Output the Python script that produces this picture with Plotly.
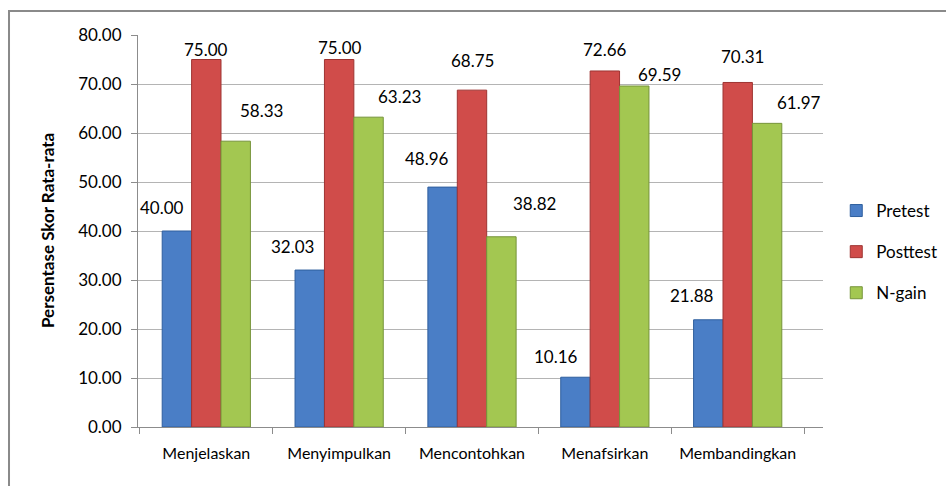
import plotly.graph_objects as go

categories = ["Menjelaskan", "Menyimpulkan", "Mencontohkan", "Menafsirkan", "Membandingkan"]
pretest = [40.00, 32.03, 48.96, 10.16, 21.88]
posttest = [75.00, 75.00, 68.75, 72.66, 70.31]
ngain = [58.33, 63.23, 38.82, 69.59, 61.97]
series_names = ["Pretest", "Posttest", "N-gain"]
y_ticks = [0, 10, 20, 30, 40, 50, 60, 70, 80]

# label placement (pixel offsets of each data label relative to its bar top)
label_dx = [[-14, -16, -15, -19, -15],
            [0, 1, 0, 0, 5],
            [25, 30, 32, 24, 31]]
label_dy = [[24, 24, 29, 21, 24],
            [10, 12, 30, 21, 26],
            [31, 21, 33, 12, 21]]
bar_shift = [-30.3, 0, 30.3]

fills = ["#4a7ec6", "#d04c4a", "#a3c751"]
edges = ["#2f5f9e", "#9e3432", "#76943a"]

FONT = "Lato, 'Open Sans', sans-serif"

fig = go.Figure()
for i, (name, vals) in enumerate(zip(series_names, [pretest, posttest, ngain])):
    fig.add_trace(go.Bar(
        x=categories, y=vals, name=name,
        marker=dict(color=fills[i], line=dict(color=edges[i], width=1)),
        legendgroup=name,
    ))
    for j, (c, v) in enumerate(zip(categories, vals)):
        fig.add_annotation(
            x=c, y=v, xref="x", yref="y", text=f"{v:.2f}", showarrow=False,
            xshift=bar_shift[i] + label_dx[i][j], yshift=label_dy[i][j],
            xanchor="center", yanchor="middle",
            font=dict(family=FONT, size=17, color="#000"),
        )

fig.add_annotation(
    x=-0.1328, y=0.5, xref="paper", yref="paper", text="<b>Persentase Skor Rata-rata</b>",
    textangle=-90, showarrow=False, xanchor="center", yanchor="middle",
    font=dict(family=FONT, size=17, color="#000"),
)

fig.add_shape(type="rect", xref="paper", yref="paper",
              x0=-0.1883, x1=1.2, y0=-0.2, y1=1.0613,
              line=dict(color="#8a8a8a", width=2), fillcolor="rgba(0,0,0,0)", layer="below")

fig.update_layout(
    width=946, height=486,
    margin=dict(l=138, r=123, t=35, b=59, autoexpand=False),
    paper_bgcolor="white", plot_bgcolor="white",
    barmode="group", bargap=0.336, bargroupgap=0,
    font=dict(family=FONT, color="#000"),
    showlegend=True,
    legend=dict(x=0.884, y=0.4815, xref="container", yref="container",
                xanchor="left", yanchor="middle",
                font=dict(family=FONT, size=17, color="#000"),
                tracegroupgap=16, traceorder="grouped", itemwidth=30,
                bgcolor="rgba(0,0,0,0)"),
    xaxis=dict(
        showline=True, linecolor="#8c8c8c", linewidth=1,
        ticks="outside", ticklen=6, tickcolor="#8c8c8c", tickson="boundaries",
        tickfont=dict(family=FONT, size=16, color="#000"),
        ticklabelstandoff=12, showgrid=False,
    ),
    yaxis=dict(
        range=[0, 80], tickvals=y_ticks, tickformat=".2f",
        showline=True, linecolor="#8c8c8c", linewidth=1,
        ticks="outside", ticklen=6, tickcolor="#8c8c8c",
        showgrid=True, gridcolor="#b4b4b4", gridwidth=1,
        tickfont=dict(family=FONT, size=17, color="#000"),
        ticklabelstandoff=6, zeroline=False,
    ),
)

fig.write_html("out.html")
